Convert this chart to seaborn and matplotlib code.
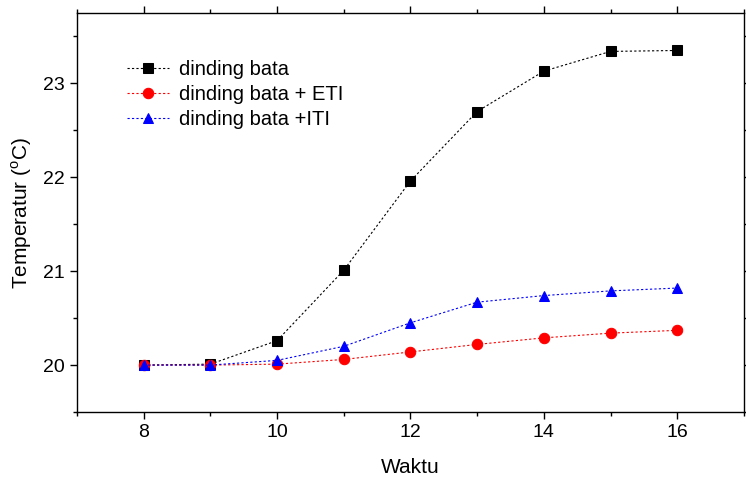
import pandas as pd
import matplotlib
matplotlib.use("Agg")
import matplotlib.pyplot as plt
import seaborn as sns

waktu = [8, 9, 10, 11, 12, 13, 14, 15, 16]
bata = [20.0, 20.01, 20.26, 21.01, 21.96, 22.70, 23.13, 23.34, 23.35]
bata_eti = [20.0, 20.0, 20.01, 20.06, 20.14, 20.22, 20.29, 20.34, 20.37]
bata_iti = [20.0, 20.0, 20.05, 20.20, 20.45, 20.67, 20.74, 20.79, 20.82]

labels = ["dinding bata", "dinding bata + ETI", "dinding bata +ITI"]
colors = ["black", "red", "blue"]
markers = ["s", "o", "^"]

sns.set_style("ticks", {"axes.edgecolor": "black", "text.color": "black",
                        "xtick.color": "black", "ytick.color": "black",
                        "axes.labelcolor": "black"})
plt.rcParams["font.family"] = ["Liberation Sans", "DejaVu Sans"]
plt.rcParams["mathtext.fontset"] = "custom"
plt.rcParams["mathtext.rm"] = "Liberation Sans"

fig = plt.figure(figsize=(7.46, 4.78), dpi=100)
ax = fig.add_axes([0.1032, 0.138, 0.894, 0.835])

for vals, lab, col, mk in zip([bata, bata_eti, bata_iti], labels, colors, markers):
    df = pd.DataFrame({"Waktu": waktu, "Temp": vals})
    sns.lineplot(data=df, x="Waktu", y="Temp", ax=ax, color=col, marker=mk,
                 markersize=7.5, markeredgecolor=col, linewidth=0.8,
                 linestyle=(0, (2, 2)), label=lab)

ax.set_xlim(7, 17)
ax.set_ylim(19.5, 23.75)
ax.set_xticks([8, 10, 12, 14, 16])
ax.set_xticks([7, 9, 11, 13, 15, 17], minor=True)
ax.set_yticks([20, 21, 22, 23])
ax.set_yticks([19.5, 20.5, 21.5, 22.5, 23.5], minor=True)

ax.tick_params(which="both", direction="out", top=True, right=True,
               labeltop=False, labelright=False, width=1, labelsize=14,
               colors="black")
ax.tick_params(which="major", length=5)
ax.tick_params(which="minor", length=3)
for s in ax.spines.values():
    s.set_linewidth(1)
    s.set_color("black")
    s.set_visible(True)

ax.set_xlabel("Waktu", fontsize=15, labelpad=12, color="black")
ax.set_ylabel("Temperatur ($^\\mathrm{o}$C)", fontsize=15, labelpad=7, color="black")

ax.legend(loc="upper left", bbox_to_anchor=(0.063, 0.903), frameon=False,
          fontsize=14.5, handlelength=2.1, handletextpad=0.5, labelspacing=0.3,
          borderaxespad=0, labelcolor="black")

fig.savefig("out.png", dpi=100)
